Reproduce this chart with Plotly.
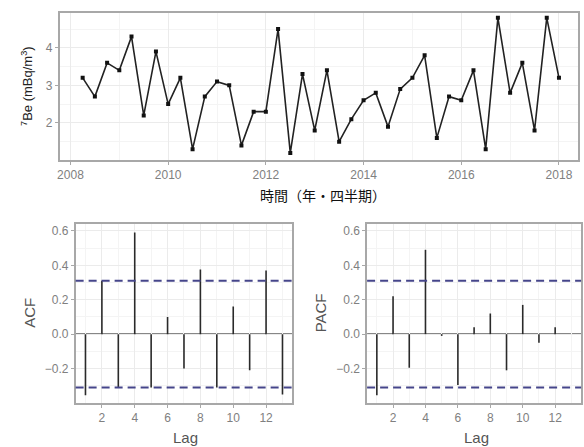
import plotly.graph_objects as go
import numpy as np

# ---- data ----
time_q = [2008.25 + 0.25 * i for i in range(40)]
be7 = [3.2, 2.7, 3.6, 3.4, 4.3, 2.2, 3.9, 2.5, 3.2, 1.3,
       2.7, 3.1, 3.0, 1.4, 2.3, 2.3, 4.5, 1.2, 3.3, 1.8,
       3.4, 1.5, 2.1, 2.6, 2.8, 1.9, 2.9, 3.2, 3.8, 1.6,
       2.7, 2.6, 3.4, 1.3, 4.8, 2.8, 3.6, 1.8, 4.8, 3.2]
acf_lags = list(range(1, 14))
acf_vals = [-0.355, 0.31, -0.31, 0.59, -0.31, 0.10, -0.20, 0.375, -0.31, 0.16, -0.21, 0.37, -0.35]
pacf_lags = list(range(1, 13))
pacf_vals = [-0.355, 0.22, -0.195, 0.49, -0.01, -0.295, 0.04, 0.12, -0.21, 0.17, -0.05, 0.04]
conf = 1.96 / np.sqrt(len(be7))

def stems(lags, vals):
    xs, ys = [], []
    for l, v in zip(lags, vals):
        xs += [l, l, None]
        ys += [0, v, None]
    return xs, ys

fig = go.Figure()
fig.add_trace(go.Scatter(x=time_q, y=be7, mode="lines+markers",
                         line=dict(color="#222222", width=1.6),
                         marker=dict(color="#111111", size=4, symbol="square"),
                         xaxis="x", yaxis="y", showlegend=False))
ax, ay = stems(acf_lags, acf_vals)
fig.add_trace(go.Scatter(x=ax, y=ay, mode="lines", line=dict(color="#2a2a2a", width=1.6),
                         xaxis="x2", yaxis="y2", showlegend=False))
px_, py_ = stems(pacf_lags, pacf_vals)
fig.add_trace(go.Scatter(x=px_, y=py_, mode="lines", line=dict(color="#2a2a2a", width=1.6),
                         xaxis="x3", yaxis="y3", showlegend=False))

shapes = []
for xa, ya in [("x2", "y2"), ("x3", "y3")]:
    shapes.append(dict(type="line", xref=f"{xa} domain", yref=ya, x0=0, x1=1, y0=0, y1=0,
                       line=dict(color="#111111", width=1.4), layer="below"))
    for c in (conf, -conf):
        shapes.append(dict(type="line", xref=f"{xa} domain", yref=ya, x0=0, x1=1, y0=c, y1=c,
                           line=dict(color="#45458A", width=2, dash="8px,5px")))

grid = "#EBEBEB"
mgrid = "#F4F4F4"
common = dict(showline=True, linecolor="#A8A8A8", linewidth=1.5, mirror=True,
              ticks="outside", ticklen=3, tickcolor="#A8A8A8",
              tickfont=dict(family="Liberation Sans, Arial", size=12, color="#808080"),
              showgrid=True, gridcolor=grid, gridwidth=1, zeroline=False)

fig.update_layout(
    width=584, height=447, margin=dict(l=0, r=0, t=0, b=0),
    paper_bgcolor="white", plot_bgcolor="white", shapes=shapes,
    xaxis=dict(domain=[0.0976, 0.9897], anchor="y", range=[2007.78, 2018.39],
               tickvals=[2008, 2010, 2012, 2014, 2016, 2018],
               minor=dict(dtick=1, tick0=2007, showgrid=True, gridcolor=mgrid, ticks=""),
               **common),
    yaxis=dict(domain=[0.642, 0.971], anchor="x", range=[1.01, 4.93],
               tickvals=[2, 3, 4],
               minor=dict(tickvals=[1.5, 2.5, 3.5, 4.5], showgrid=True, gridcolor=mgrid, ticks=""),
               **common),
    xaxis2=dict(domain=[0.125, 0.498], anchor="y2", range=[0.4, 13.6],
                tickvals=[2, 4, 6, 8, 10, 12],
                minor=dict(tickvals=[1, 3, 5, 7, 9, 11, 13], showgrid=True, gridcolor=mgrid, ticks=""),
                **common),
    yaxis2=dict(domain=[0.0984, 0.4989], anchor="x2", range=[-0.40, 0.64],
                tickvals=[-0.2, 0.0, 0.2, 0.4, 0.6], tickformat=".1f",
                minor=dict(tickvals=[-0.3, -0.1, 0.1, 0.3, 0.5], showgrid=True, gridcolor=mgrid, ticks=""),
                **common),
    xaxis3=dict(domain=[0.6267, 0.995], anchor="y3", range=[0.4, 13.6],
                tickvals=[2, 4, 6, 8, 10, 12],
                minor=dict(tickvals=[1, 3, 5, 7, 9, 11, 13], showgrid=True, gridcolor=mgrid, ticks=""),
                **common),
    yaxis3=dict(domain=[0.0984, 0.4989], anchor="x3", range=[-0.40, 0.64],
                tickvals=[-0.2, 0.0, 0.2, 0.4, 0.6], tickformat=".1f",
                minor=dict(tickvals=[-0.3, -0.1, 0.1, 0.3, 0.5], showgrid=True, gridcolor=mgrid, ticks=""),
                **common),
)

tfont = dict(family="Liberation Sans, Arial", size=15, color="#555555")
ann = [
    dict(text="<sup>7</sup>Be (mBq/m<sup>3</sup>)", x=24, y=86, textangle=-90,
         font=dict(family="Liberation Sans, Arial", size=13, color="#222222")),
    dict(text="時間（年・四半期）", x=322, y=195,
         font=dict(family="Noto Sans CJK JP", size=14, color="#111111")),
    dict(text="ACF", x=26, y=313, textangle=-90, font=tfont),
    dict(text="PACF", x=319, y=313, textangle=-90, font=tfont),
    dict(text="Lag", x=183, y=437, font=tfont),
    dict(text="Lag", x=476, y=437, font=tfont),
]
for a in ann:
    fig.add_annotation(text=a["text"], x=a["x"] / 584, y=1 - a["y"] / 447,
                       xref="paper", yref="paper", showarrow=False,
                       textangle=a.get("textangle", 0), font=a["font"],
                       xanchor="center", yanchor="middle")

fig.write_html("out.html")
